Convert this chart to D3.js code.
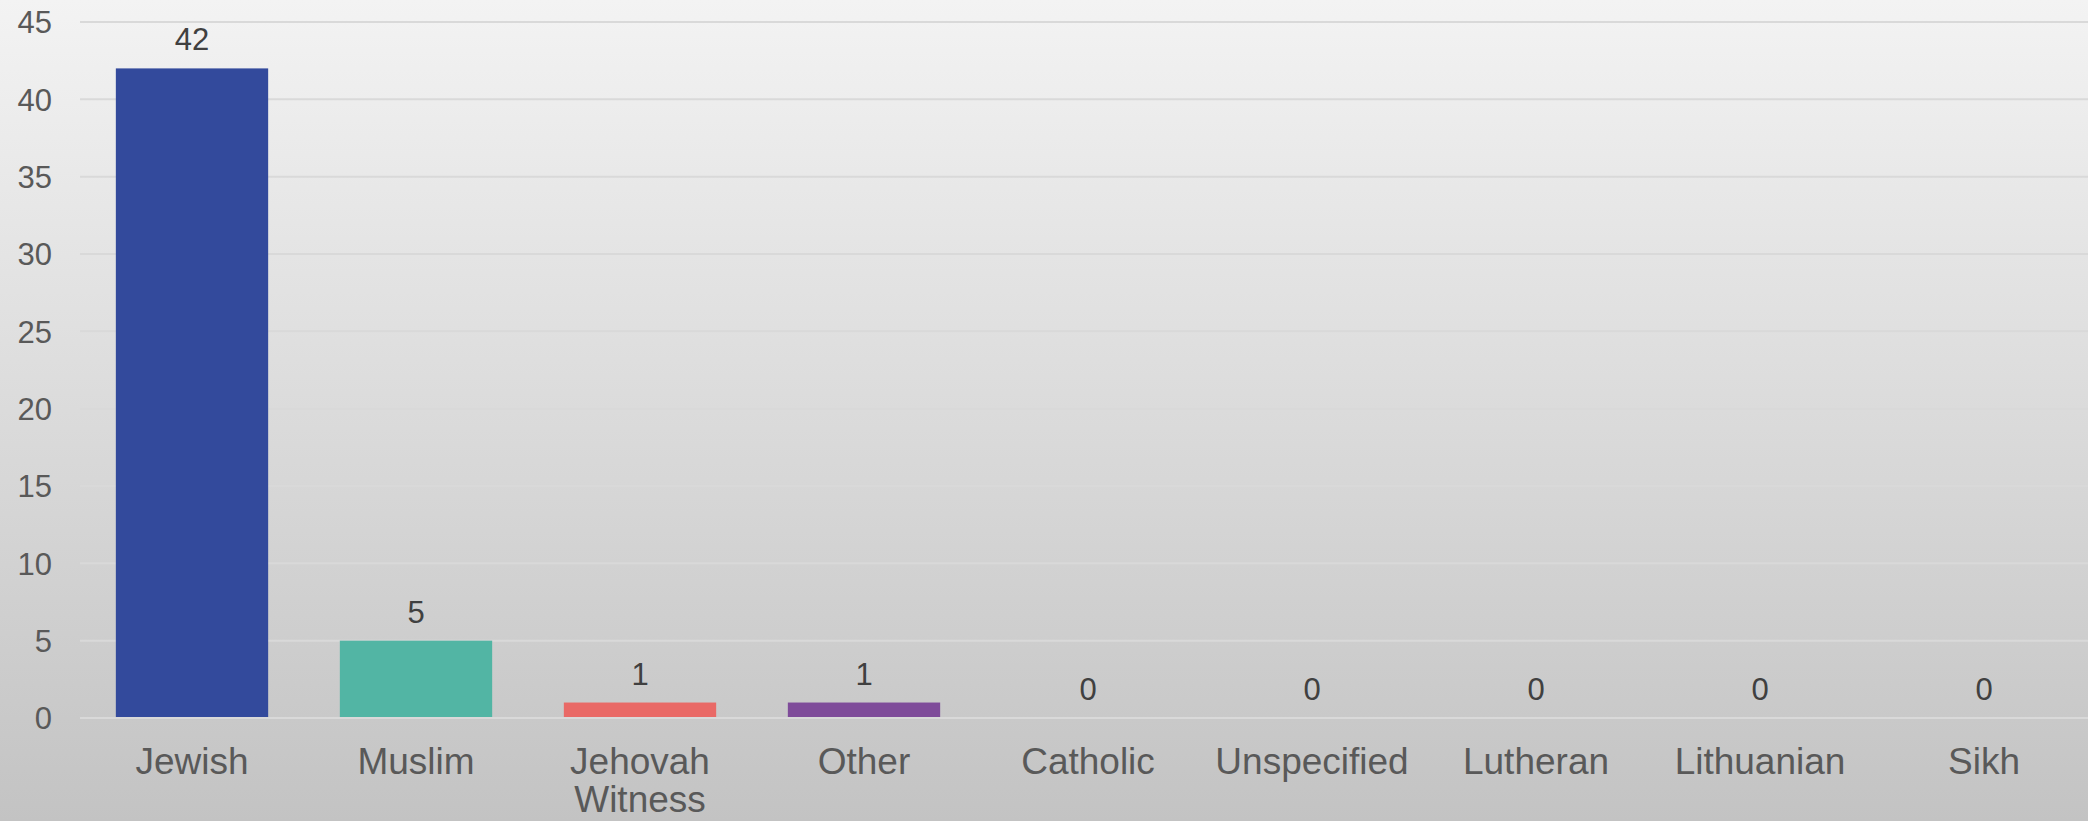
<!DOCTYPE html>
<html>
<head>
<meta charset="utf-8">
<script src="https://cdn.jsdelivr.net/npm/d3@7"></script>
<style>
  html, body { margin: 0; padding: 0; overflow: hidden; }
  svg { display: block; font-family: "Liberation Sans", Arial, sans-serif; }
</style>
</head>
<body>
<svg id="chart" width="2088" height="821"></svg>
<script>
const categories = ["Jewish", "Muslim", "Jehovah Witness", "Other", "Catholic", "Unspecified", "Lutheran", "Lithuanian", "Sikh"];
const values = [42, 5, 1, 1, 0, 0, 0, 0, 0];
const barColors = ["#334a9c", "#52b5a4", "#e96966", "#7f4c9a", "#999999", "#999999", "#999999", "#999999", "#999999"];
const yTicks = [0, 5, 10, 15, 20, 25, 30, 35, 40, 45];

const W = 2088, H = 821;
const svg = d3.select("#chart");

const defs = svg.append("defs");
const grad = defs.append("linearGradient").attr("id", "bg").attr("x1", 0).attr("y1", 0).attr("x2", 0).attr("y2", 1);
grad.append("stop").attr("offset", "0%").attr("stop-color", "#f3f3f3");
grad.append("stop").attr("offset", "100%").attr("stop-color", "#c3c3c3");
svg.append("rect").attr("width", W).attr("height", H).attr("fill", "url(#bg)");

const x = d3.scaleBand().domain(categories).range([80, 2096]).paddingInner(0.32).paddingOuter(0.16);
const y = d3.scaleLinear().domain([0, 45]).range([718, 22]);

// gridlines
svg.append("g").selectAll("line").data(yTicks).join("line")
  .attr("x1", 80).attr("x2", W)
  .attr("y1", d => y(d)).attr("y2", d => y(d))
  .attr("stroke", "#d9d9d9").attr("stroke-width", 2);

// y axis labels
const yAxis = d3.axisLeft(y).tickValues(yTicks).tickSize(0).tickPadding(0);
const gy = svg.append("g").attr("transform", "translate(52,0)").call(yAxis);
gy.select(".domain").remove();
gy.selectAll("text").attr("font-size", 31).attr("fill", "#595959")
  .attr("font-family", "Liberation Sans, Arial, sans-serif").attr("dy", "0.35em");

// bars
svg.append("g").selectAll("rect").data(categories).join("rect")
  .attr("x", d => x(d)).attr("width", x.bandwidth())
  .attr("y", (d, i) => y(values[i]))
  .attr("height", (d, i) => y(0) - 1 - y(values[i]))
  .attr("fill", (d, i) => barColors[i]);

// data labels
svg.append("g").selectAll("text").data(categories).join("text")
  .attr("x", d => x(d) + x.bandwidth() / 2)
  .attr("y", (d, i) => y(values[i]) - 18)
  .attr("text-anchor", "middle").attr("font-size", 31).attr("fill", "#404040")
  .text((d, i) => values[i]);

// x axis labels
const xAxis = d3.axisBottom(x).tickSize(0).tickPadding(0);
const gx = svg.append("g").call(xAxis);
gx.select(".domain").remove();
gx.selectAll(".tick text").each(function(d) {
  const t = d3.select(this);
  t.text(null).attr("y", 774).attr("dy", null)
    .attr("font-size", 37).attr("fill", "#595959")
    .attr("font-family", "Liberation Sans, Arial, sans-serif");
  const words = d === "Jehovah Witness" ? ["Jehovah", "Witness"] : [d];
  words.forEach((w, k) => {
    t.append("tspan").attr("x", 0).attr("y", 774 + k * 38).text(w);
  });
});
</script>
</body>
</html>
